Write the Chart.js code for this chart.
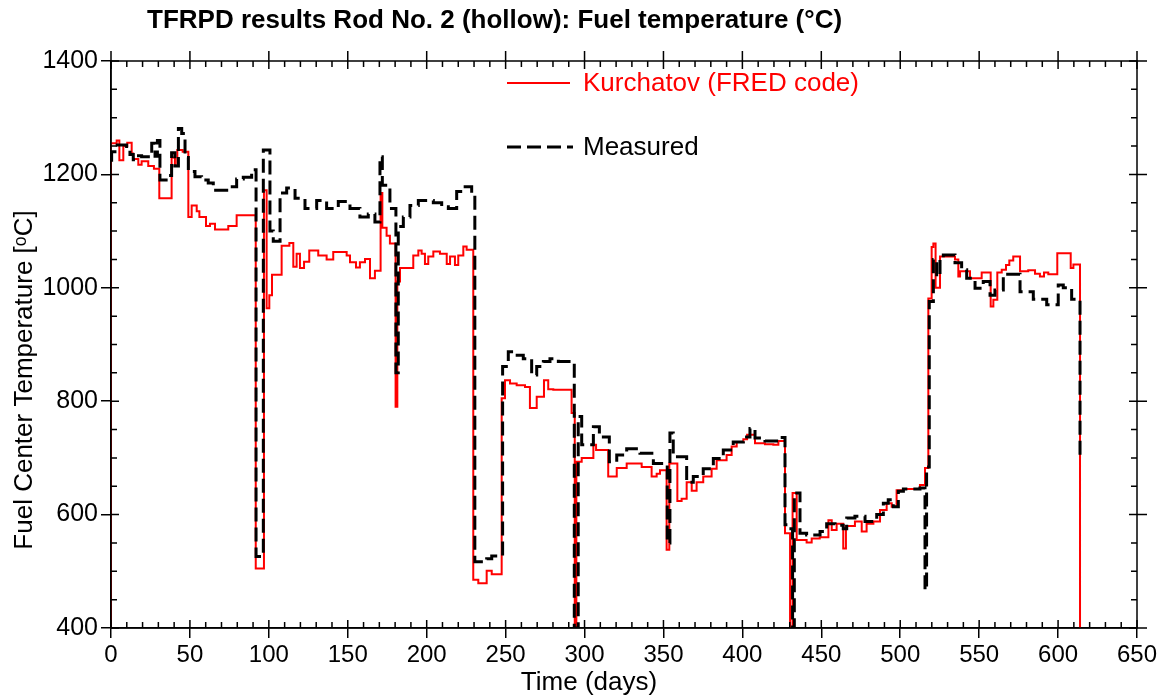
<!DOCTYPE html>
<html>
<head>
<meta charset="utf-8">
<script src="https://cdn.jsdelivr.net/npm/chart.js@4.4.0/dist/chart.umd.min.js"></script>
<style>
  html, body { margin: 0; padding: 0; background: #fff; }
  #wrap { width: 1169px; height: 698px; }
</style>
</head>
<body>
<div id="wrap"><canvas id="fuelChart" width="1169" height="698"></canvas></div>
<script>
// step data: each value holds until the next day
const kurDays = [0, 0, 3.6, 5.3, 7.8, 10.3, 13.1, 14.1, 17.3, 19.4, 23.6, 27.2, 30.6, 38.4, 40.5, 42.0, 45.4,
  49.0, 51.1, 54.3, 56.0, 60.2, 62.7, 65.9, 74.3, 79.6, 91.7, 96.9, 98.6, 100.3, 102.0, 108.1, 113.0,
  115.5, 117.6, 119.7, 122.3, 125.6, 131.3, 136.6, 140.8, 149.3, 151.4, 155.2, 157.7, 160.9, 164.1,
  167.2, 170.8, 171.9, 174.6, 176.7, 180.3, 181.4, 183.1, 191.5, 194.7, 196.8, 198.9, 201.0, 204.2,
  208.4, 212.7, 214.8, 217.9, 220.0, 223.2, 225.3, 229.5, 232.7, 238.0, 241.2, 247.5, 249.6, 252.8,
  257.0, 262.3, 265.4, 269.7, 274.3, 277.0, 280.2, 291.8, 293.8, 294.8, 298.2, 305.6, 307.3, 315.0,
  320.4, 326.7, 336.2, 342.5, 345.7, 347.8, 352.0, 353.7, 358.8, 361.5, 364.7, 367.9, 371.0, 375.2,
  380.5, 383.7, 390.0, 393.2, 396.4, 400.6, 403.0, 408.0, 414.3, 419.6, 422.8, 427.0, 430.2, 431.8,
  434.4, 440.7, 443.9, 449.0, 454.5, 456.6, 459.7, 463.9, 465.6, 471.3, 475.6, 478.7, 483.0, 487.2,
  491.4, 494.6, 497.7, 502.0, 512.5, 515.7, 517.8, 519.9, 521.0, 522.4, 525.2, 534.7, 536.8, 537.9,
  544.2, 551.6, 557.3, 559.0, 561.5, 564.3, 567.0, 569.1, 571.6, 575.9, 581.1, 585.4, 588.5, 591.1,
  593.8, 599.5, 608.0, 609.7, 613.9];
const kurTemps = [400, 1255, 1260, 1225, 1250, 1256, 1237, 1227, 1217, 1223, 1215, 1210, 1158, 1230, 1215, 1243, 1240,
  1125, 1145, 1135, 1125, 1109, 1113, 1103, 1109, 1128, 505, 1172, 964, 987, 1023, 1074, 1079,
  1037, 1060, 1035, 1046, 1066, 1057, 1050, 1063, 1057, 1045, 1036, 1045, 1051, 1017,
  1030, 1167, 1106, 1092, 1078, 790, 1011, 1035, 1057, 1066, 1060, 1042, 1055, 1064,
  1060, 1042, 1055, 1040, 1057, 1073, 1067, 485, 479, 501, 495, 805, 837, 831,
  828, 825, 788, 808, 837, 821, 820, 779, 400, 693, 700, 723, 714, 667,
  682, 690, 684, 667, 672, 678, 538, 690, 624, 628, 657, 642, 657, 667,
  681, 696, 705, 720, 728, 733, 741, 726, 724, 723, 730, 567, 400, 638,
  555, 551, 558, 560, 590, 573, 584, 540, 580, 588, 570, 584, 588, 608,
  620, 614, 643, 645, 652, 682, 981, 1072, 1078, 1000, 1055, 1050, 1020, 1029,
  1017, 1027, 967, 979, 1027, 1032, 1040, 1048, 1055, 1029, 1031, 1025, 1020, 1027,
  1024, 1061, 1035, 1041, 400];

const measDays = [0, 0.4, 2.5, 9.9, 12.0, 14.1, 16.3, 19.4, 25.8, 27.9, 29.4, 31.0, 36.3, 38.4, 40.5, 42.7, 44.8,
  46.9, 49.0, 53.2, 57.4, 61.6, 64.8, 73.3, 79.6, 83.8, 89.1, 91.9, 96.5, 100.7, 102.8, 107.1, 111.3,
  116.6, 122.9, 130.3, 136.6, 144.0, 151.4, 157.7, 163.0, 167.2, 170.4, 171.9, 176.7, 180.5, 182.0,
  185.2, 189.4, 194.7, 204.2, 209.5, 213.7, 219.0, 223.2, 228.5, 230.5, 238.0, 241.2, 248.1, 251.7,
  255.9, 261.2, 266.5, 269.7, 273.9, 278.1, 283.4, 293.5, 296.0, 298.2, 305.6, 309.4, 315.7, 320.4,
  326.7, 335.1, 343.6, 352.4, 354.1, 356.2, 364.7, 368.9, 375.2, 381.6, 387.9, 394.2, 400.6, 404.8,
  408.0, 414.3, 421.7, 427.0, 429.7, 431.8, 432.9, 436.5, 440.7, 449.2, 453.4, 458.7, 463.9, 466.1,
  471.3, 477.7, 485.1, 489.3, 492.4, 495.6, 498.8, 502.0, 512.5, 515.7, 516.7, 518.4, 521.0, 523.1,
  525.2, 527.3, 534.7, 538.9, 542.1, 547.4, 552.6, 556.9, 560.0, 565.3, 575.9, 584.3, 592.8, 600.1,
  603.3, 608.6, 613.9];
const measTemps = [1225, 1240, 1252, 1243, 1235, 1226, 1233, 1231, 1255, 1232, 1260, 1190, 1198, 1238, 1215, 1281, 1272,
  1230, 1205, 1196, 1190, 1185, 1172, 1178, 1192, 1195, 1208, 526, 1243, 1100, 1082, 1167, 1176,
  1158, 1140, 1154, 1140, 1152, 1140, 1125, 1130, 1116, 1231, 1181, 1140, 850, 1108,
  1125, 1145, 1154, 1150, 1143, 1140, 1170, 1178, 1163, 517, 522, 527, 861, 887,
  881, 875, 846, 861, 870, 875, 870, 400, 773, 723, 755, 737, 693, 705,
  716, 708, 690, 550, 744, 702, 657, 667, 681, 699, 714, 728, 737, 752,
  735, 730, 736, 582, 575, 400, 638, 567, 564, 570, 584, 581, 575, 594,
  597, 588, 600, 620, 626, 614, 641, 645, 647, 467, 684, 976, 1050, 1020,
  1050, 1058, 1044, 1032, 1017, 999, 1011, 987, 996, 1024, 993, 980, 970, 1005,
  1000, 980, 702];

const xTickStep = 50;
const yTickStep = 200;

const FONT = "'Liberation Sans', Arial, Helvetica, sans-serif";

// box, inner/minor ticks, titles and in-plot legend
const decorations = {
  id: 'decorations',
  afterDraw(chart) {
    const ctx = chart.ctx;
    const area = chart.chartArea;
    const xs = chart.scales.x;
    const ys = chart.scales.y;
    ctx.save();
    ctx.strokeStyle = '#000';
    ctx.lineWidth = 1.5;
    ctx.strokeRect(area.left, area.top, area.right - area.left, area.bottom - area.top);

    ctx.beginPath();
    for (let v = xs.min; v <= xs.max; v += 10) {
      const p = xs.getPixelForValue(v);
      const major = v % xTickStep === 0;
      const inLen = major ? 8 : 6;
      ctx.moveTo(p, area.bottom);
      ctx.lineTo(p, area.bottom - inLen);
      ctx.moveTo(p, area.top);
      ctx.lineTo(p, area.top + inLen);
      if (major) {
        ctx.moveTo(p, area.top);
        ctx.lineTo(p, area.top - 10);
      }
    }
    for (let v = ys.min; v <= ys.max; v += 50) {
      const p = ys.getPixelForValue(v);
      const major = v % yTickStep === 0;
      const inLen = major ? 8 : 6;
      ctx.moveTo(area.left, p);
      ctx.lineTo(area.left + inLen, p);
      ctx.moveTo(area.right, p);
      ctx.lineTo(area.right - inLen, p);
      if (major) {
        ctx.moveTo(area.right, p);
        ctx.lineTo(area.right + 10, p);
      }
    }
    ctx.stroke();

    // title
    ctx.fillStyle = '#000';
    ctx.textBaseline = 'middle';
    ctx.textAlign = 'left';
    ctx.font = 'bold 26px ' + FONT;
    ctx.fillText('TFRPD results Rod No. 2 (hollow): Fuel temperature (\u00B0C)', 147, 21);

    // axis titles
    ctx.font = '26px ' + FONT;
    ctx.textAlign = 'center';
    ctx.fillText('Time (days)', 589, 683);
    ctx.save();
    ctx.translate(25, 380);
    ctx.rotate(-Math.PI / 2);
    ctx.fillText('Fuel Center Temperature [\u1D52C]', 0, 0);
    ctx.restore();

    // legend
    ctx.textAlign = 'left';
    ctx.strokeStyle = '#ff0000';
    ctx.lineWidth = 2;
    ctx.beginPath();
    ctx.moveTo(507, 83);
    ctx.lineTo(570, 83);
    ctx.stroke();
    ctx.fillStyle = '#ff0000';
    ctx.fillText('Kurchatov (FRED code)', 583, 84);

    ctx.strokeStyle = '#000';
    ctx.lineWidth = 3;
    ctx.setLineDash([14, 6]);
    ctx.beginPath();
    ctx.moveTo(507, 147);
    ctx.lineTo(573, 147);
    ctx.stroke();
    ctx.setLineDash([]);
    ctx.fillStyle = '#000';
    ctx.fillText('Measured', 583, 148);
    ctx.restore();
  }
};

const ctx = document.getElementById('fuelChart').getContext('2d');

const data = {
  datasets: [
    {
      label: 'Measured',
      data: measDays.map((d, i) => ({ x: d, y: measTemps[i] })),
      borderColor: '#000000',
      borderWidth: 3,
      borderDash: [14, 6],
      stepped: true,
      pointRadius: 0,
      fill: false,
      order: 0
    },
    {
      label: 'Kurchatov (FRED code)',
      data: kurDays.map((d, i) => ({ x: d, y: kurTemps[i] })),
      borderColor: '#ff0000',
      borderWidth: 2,
      stepped: true,
      pointRadius: 0,
      fill: false,
      order: 1
    }
  ]
};

const config = {
  type: 'line',
  data,
  options: {
    responsive: false,
    animation: false,
    layout: { padding: { left: 0, right: 32, top: 61, bottom: 0 } },
    plugins: {
      legend: { display: false },
      tooltip: { enabled: false },
      title: { display: false }
    },
    scales: {
      x: {
        type: 'linear',
        min: 0,
        max: 650,
        afterFit: (s) => { s.height = 70; },
        ticks: { stepSize: xTickStep, color: '#000', padding: 3, maxRotation: 0,
                 font: { family: FONT, size: 24 }, callback: (v) => String(v) },
        grid: { display: true, drawOnChartArea: false, drawTicks: true, tickLength: 10, color: '#000', lineWidth: 1.5 },
        border: { display: true, color: '#000', width: 1.5 }
      },
      y: {
        min: 400,
        max: 1400,
        afterFit: (s) => { s.width = 111; },
        ticks: { stepSize: yTickStep, color: '#000', padding: 3,
                 font: { family: FONT, size: 25 }, callback: (v) => String(v) },
        grid: { display: true, drawOnChartArea: false, drawTicks: true, tickLength: 10, color: '#000', lineWidth: 1.5 },
        border: { display: true, color: '#000', width: 1.5 }
      }
    }
  },
  plugins: [decorations]
};

let fuelChart = new Chart(ctx, config);
</script>
</body>
</html>
